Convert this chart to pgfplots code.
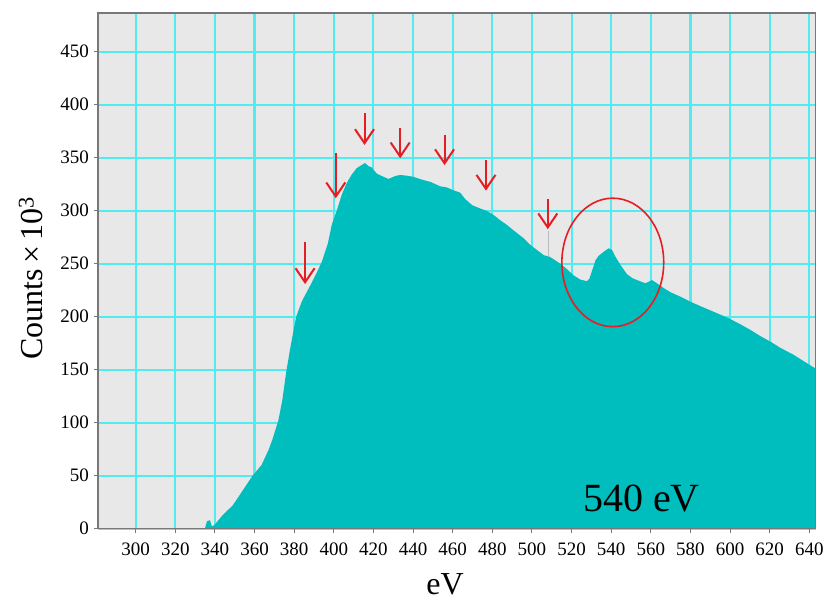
\documentclass[border=0pt]{standalone}
\usepackage{fontspec}
\setmainfont{Liberation Serif}
\usepackage{pgfplots}
\pgfplotsset{compat=1.18}
\usetikzlibrary{arrows.meta}

\definecolor{specfill}{RGB}{0,190,190}
\definecolor{gridcyan}{RGB}{80,236,240}
\definecolor{panelbg}{RGB}{232,232,232}
\definecolor{framegray}{RGB}{120,120,120}
\definecolor{markred}{RGB}{228,30,36}

\begin{document}
\begin{tikzpicture}
\begin{axis}[
  name=spec,
  scale only axis, width=717.7pt, height=515.7pt,
  xmin=281, xmax=643.2, ymin=0, ymax=486.5,
  xtick={300,320,...,640}, ytick={0,50,...,450},
  grid=major,
  major grid style={gridcyan, line width=2.1pt},
  axis background/.style={fill=panelbg},
  axis line style={framegray, line width=1.2pt},
  tick style={framegray, line width=1pt},
  tick align=outside, major tick length=4pt,
  xtick pos=bottom, ytick pos=left,
  /pgf/number format/assume math mode=true,
  /pgf/number format/1000 sep={},
  tick label style={font=\fontsize{19}{19}\selectfont},
  xticklabel style={yshift=-6.5pt},
  yticklabel style={xshift=-1.5pt},
  xlabel={eV}, ylabel={Counts\,×\,10\textsuperscript{3}},
  label style={font=\fontsize{32}{32}\selectfont},
  xlabel style={at={(axis description cs:0.4835,-0.128)}, anchor=base},
  ylabel style={at={(axis description cs:-0.0934,0.486)}, anchor=center},
]
% measured spectrum
\addplot[fill=specfill, draw=none] coordinates {
(281,0) (330,0) (335,0.5) (336,7) (337.5,8) (338.5,2) (340,4) (344,13)
(349,22) (354,36) (359,50) (363.5,60) (367,74) (369,84) (372,102)
(374,121) (376,148) (378,170) (381,200) (384,215) (388,229) (391,240)
(394,252) (397,269) (399,287) (401.5,300) (404,315) (406.5,326)
(409,334) (411.5,340) (414,343) (415.8,345) (417.5,342) (419,341)
(421.7,335) (425,332) (427.6,330) (431,332.7) (433.5,333.7) (437,333)
(440,332) (445,329) (449,327) (453.7,323) (457,322) (460,319.5)
(463.8,317) (466.3,311) (470,305) (474,302) (477,300) (480.6,296)
(484,291) (487.4,286.5) (491,281) (495.8,274) (499,268) (502.5,263)
(506,258) (509,256.5) (514.3,250) (517,246) (521,239) (524.4,235)
(527.8,233.5) (529,236) (531,247) (532,253) (533.6,257.3) (536,261)
(538.7,264.5) (540.4,263) (542,257) (544.6,249) (548,240) (551,236)
(553,234.6) (557.2,231.5) (560.6,234.5) (563.1,231.5) (566.5,227)
(570,223) (574.9,218.9) (579.9,214.2) (585,210) (590,206) (595,202)
(599.3,198.5) (605,193) (610.3,187.5) (615,182) (620.4,176.4)
(625,171) (632.1,164) (638,157) (643.2,151)
} \closedcycle;
% narrow spike near 508 eV
\addplot[gray!55, line width=0.8pt] coordinates {(508.3,257) (508.3,281)};

% frame redrawn above the fill
\draw[framegray, line width=1.2pt] (rel axis cs:0,0) rectangle (rel axis cs:1,1);

% peak markers
\tikzset{pk/.style={markred, line width=2pt,
  -{Straight Barb[length=14pt,width=19pt]}}}
\draw[pk] (axis cs:385.5,270.5) -- (axis cs:385.5,230.8);
\draw[pk] (axis cs:401,354.4) -- (axis cs:401,311.7);
\draw[pk] (axis cs:415.5,392) -- (axis cs:415.5,362);
\draw[pk] (axis cs:433.5,377.7) -- (axis cs:433.5,349.4);
\draw[pk] (axis cs:455.9,371.3) -- (axis cs:455.9,343);
\draw[pk] (axis cs:476.8,347.8) -- (axis cs:476.8,318.9);
\draw[pk] (axis cs:508,311) -- (axis cs:508,282.5);

% highlighted 540 eV feature
\draw[markred, line width=1.6pt] (axis cs:540.8,251.2)
  ellipse [x radius=25.7, y radius=60.6];

\node[anchor=base west, font=\fontsize{40}{40}\selectfont]
  at (axis cs:524,16) {540 eV};
\end{axis}
\pgfresetboundingbox
\path[use as bounding box]
  ([xshift=-98pt,yshift=-72.3pt]spec.south west)
  rectangle ([xshift=15.3pt,yshift=13pt]spec.north east);
\end{tikzpicture}
\end{document}
